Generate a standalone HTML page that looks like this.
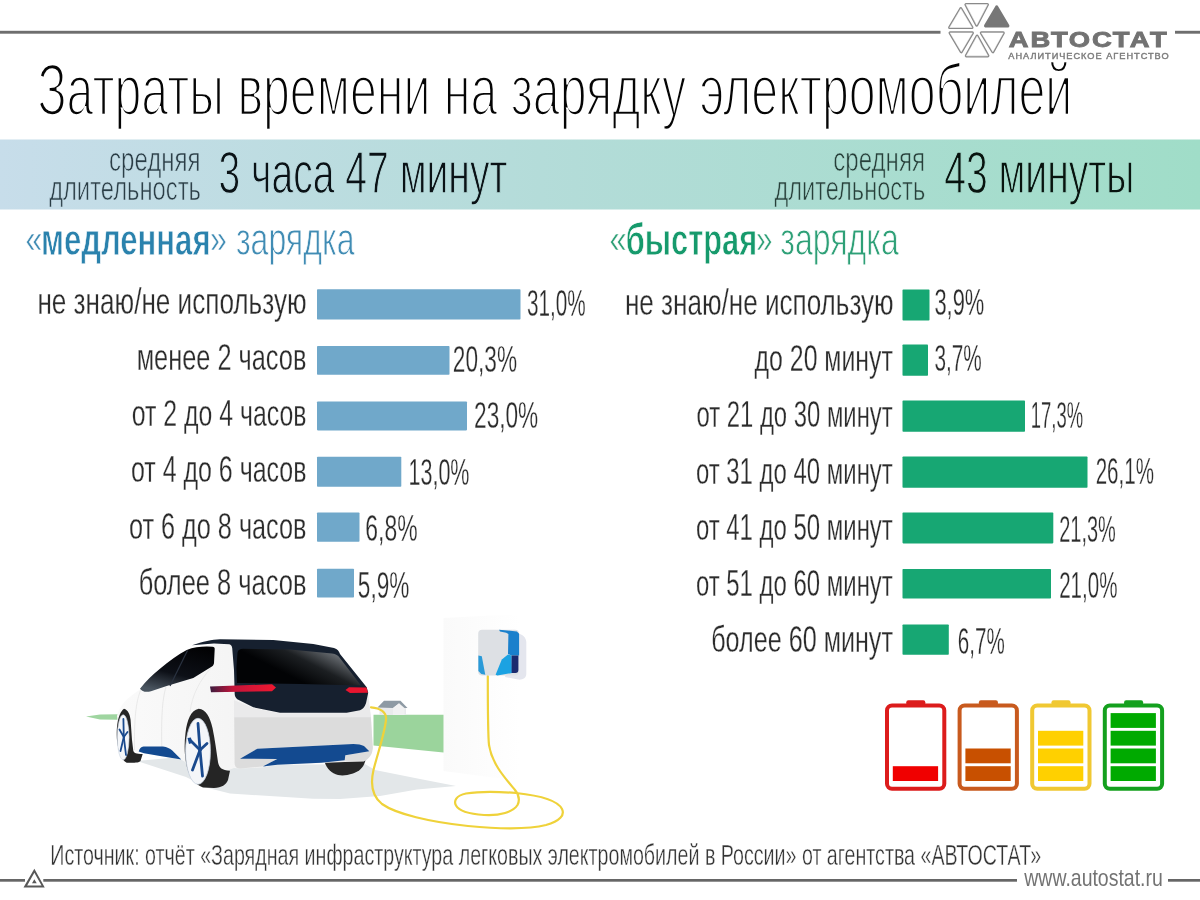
<!DOCTYPE html>
<html lang="ru"><head><meta charset="utf-8"><title>Затраты времени на зарядку электромобилей</title>
<style>
html,body{margin:0;padding:0;background:#fff}
body{width:1200px;height:900px;overflow:hidden}
svg{display:block}
text{font-family:"Liberation Sans",sans-serif}
</style></head><body>
<svg width="1200" height="900" viewBox="0 0 1200 900">
<defs>
<linearGradient id="bn" x1="0" x2="1" y1="0" y2="0"><stop offset="0" stop-color="#c7ddea"/><stop offset="0.45" stop-color="#b4dcd9"/><stop offset="1" stop-color="#a0ddc8"/></linearGradient>
<linearGradient id="bg0" gradientUnits="userSpaceOnUse" x1="-147.7" y1="0" x2="1478.1" y2="0"><stop offset="0" stop-color="#c7ddea"/><stop offset="0.45" stop-color="#b4dcd9"/><stop offset="1" stop-color="#a0ddc8"/></linearGradient>
<linearGradient id="bg1" gradientUnits="userSpaceOnUse" x1="-67.4" y1="0" x2="1578.4" y2="0"><stop offset="0" stop-color="#c7ddea"/><stop offset="0.45" stop-color="#b4dcd9"/><stop offset="1" stop-color="#a0ddc8"/></linearGradient>
<linearGradient id="bg2" gradientUnits="userSpaceOnUse" x1="-327.6" y1="0" x2="1471.6" y2="0"><stop offset="0" stop-color="#c7ddea"/><stop offset="0.45" stop-color="#b4dcd9"/><stop offset="1" stop-color="#a0ddc8"/></linearGradient>
<linearGradient id="bg3" gradientUnits="userSpaceOnUse" x1="-1129.0" y1="0" x2="496.8" y2="0"><stop offset="0" stop-color="#c7ddea"/><stop offset="0.45" stop-color="#b4dcd9"/><stop offset="1" stop-color="#a0ddc8"/></linearGradient>
<linearGradient id="bg4" gradientUnits="userSpaceOnUse" x1="-1069.3" y1="0" x2="587.6" y2="0"><stop offset="0" stop-color="#c7ddea"/><stop offset="0.45" stop-color="#b4dcd9"/><stop offset="1" stop-color="#a0ddc8"/></linearGradient>
<linearGradient id="bg5" gradientUnits="userSpaceOnUse" x1="-1415.2" y1="0" x2="383.5" y2="0"><stop offset="0" stop-color="#c7ddea"/><stop offset="0.45" stop-color="#b4dcd9"/><stop offset="1" stop-color="#a0ddc8"/></linearGradient>
</defs>
<rect width="1200" height="900" fill="#fff"/>
<!-- top line -->
<rect x="0" y="30.8" width="940.5" height="2.9" fill="#6e6e6e"/>
<rect x="1175" y="30.8" width="25" height="2.9" fill="#6e6e6e"/>
<!-- banner -->
<rect x="0" y="139.5" width="1200" height="70" fill="url(#bn)"/>
<g id="logo" stroke-linejoin="round">
<polygon points="960.80,8.70 949.69,27.51 971.91,27.51" fill="#8a8a8a" stroke="#8a8a8a" stroke-width="3.2"/>
<polygon points="960.80,8.70 949.69,27.51 971.91,27.51" fill="#fff" stroke="#fff" stroke-width="0.5"/>
<polygon points="965.95,4.61 987.40,4.61 976.70,25.10" fill="#8a8a8a" stroke="#8a8a8a" stroke-width="3.2"/>
<polygon points="965.95,4.61 987.40,4.61 976.70,25.10" fill="#fff" stroke="#fff" stroke-width="0.5"/>
<polygon points="996.70,7.00 985.59,25.91 1007.81,25.91" fill="#777" stroke="#777" stroke-width="3.2"/>
<polygon points="950.14,32.89 972.36,32.89 961.25,51.70" fill="#8a8a8a" stroke="#8a8a8a" stroke-width="3.2"/>
<polygon points="950.14,32.89 972.36,32.89 961.25,51.70" fill="#fff" stroke="#fff" stroke-width="0.5"/>
<polygon points="977.10,36.20 966.37,55.87 987.83,55.87" fill="#8a8a8a" stroke="#8a8a8a" stroke-width="3.2"/>
<polygon points="977.10,36.20 966.37,55.87 987.83,55.87" fill="#fff" stroke="#fff" stroke-width="0.5"/>
<polygon points="981.39,32.89 1003.22,32.91 992.85,51.70" fill="#8a8a8a" stroke="#8a8a8a" stroke-width="3.2"/>
<polygon points="981.39,32.89 1003.22,32.91 992.85,51.70" fill="#fff" stroke="#fff" stroke-width="0.5"/>
</g>
<g id="scene">
<defs>
<linearGradient id="wl" x1="0" x2="1" y1="0" y2="0"><stop offset="0" stop-color="#fafafa"/><stop offset="1" stop-color="#ffffff"/></linearGradient>
<linearGradient id="tl" x1="0" x2="1" y1="0" y2="0"><stop offset="0" stop-color="#3b1d3f"/><stop offset="0.35" stop-color="#c4143a"/><stop offset="1" stop-color="#f01830"/></linearGradient>
<linearGradient id="rw" x1="0.35" y1="0.6" x2="0.95" y2="0.25"><stop offset="0" stop-color="#020305"/><stop offset="0.45" stop-color="#1c1f22"/><stop offset="1" stop-color="#7d8288"/></linearGradient>
<linearGradient id="sw" x1="0.7" y1="0" x2="0.3" y2="1"><stop offset="0" stop-color="#020204"/><stop offset="0.6" stop-color="#0d1017"/><stop offset="1" stop-color="#4a5560"/></linearGradient>
<linearGradient id="bd" x1="0" x2="1" y1="0" y2="0"><stop offset="0" stop-color="#fafafa"/><stop offset="0.6" stop-color="#f3f3f3"/><stop offset="1" stop-color="#ececec"/></linearGradient>
</defs>
<polygon points="443.5,618 520,614 520,781 443.5,771" fill="url(#wl)"/>
<polygon points="137,761 186,777 208,788 230,793.5 313,798.7 340,799 380,796 417,789.5 456,786 420,779 375,770 365,764 240,765 180,757" fill="#e3e7e9"/>
<polygon points="86,716.5 100,714.5 118,714.2 118,719.8 100,719.4" fill="#9fd5a0"/>
<polygon points="373.5,714.8 443.5,714.8 443.5,752.6 373.5,745.5" fill="#9bd49c"/>
<polygon points="379.5,707 406,707 406,715 379.5,715" fill="#e9eaec"/>
<polygon points="377.5,707.6 384,700.8 400.5,700.8 407.5,708 403,708 399,703.5 393,708" fill="#8e9aa4"/>
<polygon points="393,708 399,703.2 404.5,708 404.5,715 393,715" fill="#f1f1f2"/>
<path d="M324,760 L365.5,760 C364,767 360,771 353,773.5 C347,775.5 342,775.8 338,775 C331,773 326,768 324,760Z" fill="#272727"/>
<path d="M117,716 C119,706 128,697 140,689.5 L160,668 L187,650 L207,645.5 L232,641 L336,649 L368,692 L371,717 L372.8,748 L369.5,755 L364,761.5 L344.7,762 L321,763 L277,765 L262,767.5 L240,768.5 L234,768 L226,771 L200,771 L181,759.5 L160,756 L139,752 L120,745 Z" fill="url(#bd)"/>
<path d="M140.5,690.5 C137,700 134,712 134.5,750" fill="none" stroke="#e4e4e4" stroke-width="0.8"/>
<path d="M166,687 C162,700 161,720 162,755" fill="none" stroke="#e2e2e2" stroke-width="0.8"/>
<path d="M211,668 C200,680 192,695 190,712" fill="none" stroke="#e6e6e6" stroke-width="0.8"/>
<path d="M234,700 L253,708 L280,713.5 L347,713.5 L362,710 L368.5,703 L371,717.5 L234,717.5Z" fill="#eaeaeb"/>
<path d="M234.2,717.3 L370.8,717.3 L372.8,748 C372.5,753 371,757 365.5,760.7 L344.7,760.7 L345.3,755.3 L369.3,751.3 L364,746 L353.3,744 L257.3,748.7 L240,758.7 L277.3,759 L262.7,766.4 L241,768.6 C236.5,768.6 234.8,767 234.6,763 Z" fill="#dcdcdc"/>
<path d="M240,758.7 L257.3,748.7 L353.3,744 C358,744 361.5,744.8 364,746 L369.3,751.3 L345.3,755.3 L344.7,760.3 L321.3,762.7 L277.3,764.7 L262.7,766.4 L277.3,759 Z" fill="#134a90"/>
<path d="M138.7,751.6 C139.5,748.5 141,747 143.5,746.5 L163,746.5 C167,747 170,748.5 172,750.3 L181.3,759.6 L160,756 L144,753.3 Z" fill="#134a90"/>
<path d="M192,645.3 C203,641.5 212,639.8 220,639.3 L273.3,640 L313.3,644 L334,648 C337.5,649 339,651 340,654 L366.7,687.3 L368.2,692.7 L366,703.3 C364.5,707.5 362.5,709.5 360,710.2 L346.7,712.8 L280,712.8 L253.3,707.3 L237.3,699.3 C235.5,697.5 234.8,696 234.7,694 L234,670 L232.2,648 C231.8,645.8 231,644.6 229.3,644.2 L214,643.6 Z" fill="#16202f"/>
<path d="M237.5,652.5 C238,650 240,648.8 243,648.8 L290,649.5 L332,653.6 C336,654.3 338,655.5 339.5,657.5 L361,685.5 L300,684 L237,683 L236.4,668 Z" fill="url(#rw)"/>
<path d="M140,688.7 C146,681 152,675 160,668.7 C169,661 178,654.5 186.7,650 C193,647.5 200,646.8 206.7,646.6 L212.5,646.8 C214.2,647 214.8,647.6 214.7,649 L214,663.3 C213.6,665.3 212.6,666.3 210.7,667.3 L193.3,678 L166.7,686 L151,691.2 C146,692.6 142,691.6 140,688.7Z" fill="url(#sw)"/>
<path d="M187.5,650.5 L170,686" stroke="#2a3240" stroke-width="1.2" fill="none"/>
<path d="M210,686.6 L272,684.2 L276,687.5 L272,691.2 L211,692.3 Z" fill="url(#tl)"/>
<path d="M345.5,690 L349,687.2 L366.5,687.6 L368,692.8 L350,693 Z" fill="#e8152f"/>
<path d="M124,708.7 C128,710 130,714 130.6,720 L132,740 L133.3,750.7 C134,753 136,753.8 142.7,754 L140.5,761 C139,762.5 136,763 126.7,762.8 C121.5,760 118.5,752 117.3,742 C116,730 117,714 124,708.7Z" fill="#252525"/>
<ellipse cx="123.2" cy="737.3" rx="5.9" ry="22.5" fill="#f4f6f9" stroke="#c9d3e0" stroke-width="0.6"/>
<g stroke="#1a4a8e" stroke-width="1.8" stroke-linecap="round" fill="none"><path d="M123.8,737 L123.4,719"/><path d="M123.8,737 L119.5,729.5"/><path d="M123.8,737 L127.5,732"/><path d="M123.8,737 L120.5,751"/><path d="M123.8,737 L126,755"/></g>
<path d="M198.7,708.7 C206,709.5 210,717 212.5,728 C215,740 216.5,752 218,762 C219,768 222,770.3 230,770.7 L228,780 C226,785 222,787.5 214,788 L203,787.5 C196,785 189,777 186.7,766 C184.5,756 184,745 185.5,733 C187,720 191,710 198.7,708.7Z" fill="#252525"/>
<ellipse cx="198" cy="751.3" rx="12.4" ry="33" fill="#f4f6f9" stroke="#c9d3e0" stroke-width="0.8"/>
<g stroke="#1a4a8e" stroke-width="2.8" stroke-linecap="round" fill="none"><path d="M200,750 L198,723.5"/><path d="M200,750 L189.5,739.5"/><path d="M200,750 L207,743.5"/><path d="M200,750 L192.5,770"/><path d="M200,750 L202.5,776"/></g>
<path d="M187.5,738 L191,737.5 L192,743 L189,744Z" fill="#1a4a8e"/>
<path d="M371,707.3 C380,708 387,712 386,720 C384.5,734 378,752 373.5,770 C370,785 372,796 382,804 C396,814 430,822 468,826 C500,829 530,829 546,825 C560,821 565,815 562,809 C558,801 540,795.5 516,793 C498,791.5 478,791.5 466,793.5 C456,795.5 453.5,801 456,805.5 C459,811 470,814 484,815 C500,816 513,812 517.5,805 C520,800 519,795 515,790 C505,778 492,764 489,745 C488,736 487.8,720 487.8,676" fill="none" stroke="#efd23a" stroke-width="2.2" stroke-linecap="round"/>
<path d="M517,633 C522,634 526,637 526.3,642 L526.3,674 C526,678 523,680 518,679.6 L505,677 Z" fill="#e4e6ee"/>
<rect x="478.2" y="629.7" width="40.8" height="45.8" rx="4" fill="#dde0e4"/>
<polygon points="499.1,629.7 516.9,631.4 519.1,633.7 519.1,655.6 511.6,655.4 508,654.1 508.4,634.1 506.2,632.8 500,631.4" fill="#1a80cc"/>
<polygon points="495.6,674.8 501.8,659.4 508,654.4 511.6,655.4 512,673 497.3,675.5" fill="#1ba2e2"/>
<path d="M511.6,655.4 L518.4,655.4 L518.4,670 C518.4,672 517.4,673 515.5,673 L511.6,673Z" fill="#1b2a6e"/>
<polygon points="478.4,655.4 481.8,656.3 485.3,674.8 481.3,674 478.4,671" fill="#2a9ad8"/>
</g>
<g id="bars">
<rect x="317" y="289.2" width="203.5" height="30.3" rx="0.8" fill="#70a8ca"/>
<rect x="317" y="346.1" width="132.5" height="28.7" rx="0.8" fill="#70a8ca"/>
<rect x="317" y="401.5" width="150.0" height="28.9" rx="0.8" fill="#70a8ca"/>
<rect x="317" y="456.8" width="84.3" height="30" rx="0.8" fill="#70a8ca"/>
<rect x="317" y="512.5" width="42.5" height="29.3" rx="0.8" fill="#70a8ca"/>
<rect x="317" y="568.8" width="37.0" height="28.8" rx="0.8" fill="#70a8ca"/>
<rect x="902.5" y="289.6" width="27.0" height="31" rx="0.8" fill="#17a773"/>
<rect x="902.5" y="344.4" width="25.5" height="31.4" rx="0.8" fill="#17a773"/>
<rect x="902.5" y="400.6" width="122.5" height="31.2" rx="0.8" fill="#17a773"/>
<rect x="902.5" y="456.5" width="185.0" height="31.2" rx="0.8" fill="#17a773"/>
<rect x="902.5" y="512.6" width="150.8" height="30.8" rx="0.8" fill="#17a773"/>
<rect x="902.5" y="568.9" width="148.5" height="29.6" rx="0.8" fill="#17a773"/>
<rect x="902.5" y="624.4" width="46.3" height="30.3" rx="0.8" fill="#17a773"/>
</g>
<g id="batteries">
<rect x="906.3" y="700.3" width="19" height="6" rx="2" fill="#dc1c1c"/>
<rect x="887.0" y="705.4" width="57.3" height="83.3" rx="5" fill="#fff" stroke="#dc1c1c" stroke-width="4"/>
<rect x="892.8" y="766.2" width="45.3" height="14.8" fill="#f00000"/>
<rect x="978.9" y="700.3" width="19" height="6" rx="2" fill="#c85a1e"/>
<rect x="959.6" y="705.4" width="57.3" height="83.3" rx="5" fill="#fff" stroke="#c85a1e" stroke-width="4"/>
<rect x="965.4" y="766.2" width="45.3" height="14.8" fill="#c85000"/>
<rect x="965.4" y="748.5" width="45.3" height="14.8" fill="#c85000"/>
<rect x="1051.5" y="700.3" width="19" height="6" rx="2" fill="#f0c832"/>
<rect x="1032.2" y="705.4" width="57.3" height="83.3" rx="5" fill="#fff" stroke="#f0c832" stroke-width="4"/>
<rect x="1038.0" y="766.2" width="45.3" height="14.8" fill="#ffd000"/>
<rect x="1038.0" y="748.5" width="45.3" height="14.8" fill="#ffd000"/>
<rect x="1038.0" y="730.8" width="45.3" height="14.8" fill="#ffd000"/>
<rect x="1124.1" y="700.3" width="19" height="6" rx="2" fill="#14a01e"/>
<rect x="1104.8" y="705.4" width="57.3" height="83.3" rx="5" fill="#fff" stroke="#14a01e" stroke-width="4"/>
<rect x="1110.6" y="766.2" width="45.3" height="14.8" fill="#00aa00"/>
<rect x="1110.6" y="748.5" width="45.3" height="14.8" fill="#00aa00"/>
<rect x="1110.6" y="730.8" width="45.3" height="14.8" fill="#00aa00"/>
<rect x="1110.6" y="713.1" width="45.3" height="14.8" fill="#00aa00"/>
</g>
<!-- footer line -->
<rect x="0" y="879" width="25" height="2.7" fill="#666"/>
<rect x="43.3" y="879" width="973.7" height="2.7" fill="#666"/>
<rect x="1168" y="879" width="32" height="2.7" fill="#666"/>
<path fill-rule="evenodd" d="M34.35 868.75 L44.75 887.5 L23.5 887.5 Z M34.35 872.8 L27.17 885.5 L41.53 885.5 Z" fill="#585858"/>
<path d="M34.35 879.25 L36.75 883.25 L32 883.25 Z" fill="#585858"/>
<g id="texts">
<text transform="translate(37.46 115.0) scale(0.6745 1)" font-size="71.6" fill="#050505" stroke="#fff" stroke-width="2.6">Затраты времени на зарядку электромобилей</text>
<text transform="translate(109.02 171.2) scale(0.7381 1)" font-size="32.6" fill="#2a3d46" stroke="url(#bg0)" stroke-width="0.7">средняя</text>
<text transform="translate(49.14 199.8) scale(0.7291 1)" font-size="32.6" fill="#2a3d46" stroke="url(#bg1)" stroke-width="0.7">длительность</text>
<text transform="translate(218.50 192.6) scale(0.6670 1)" font-size="58.6" fill="#0a1216" stroke="url(#bg2)" stroke-width="1.3">3 часа 47 минут</text>
<text transform="translate(833.32 171.2) scale(0.7381 1)" font-size="32.6" fill="#27403a" stroke="url(#bg3)" stroke-width="0.7">средняя</text>
<text transform="translate(774.44 199.8) scale(0.7243 1)" font-size="32.6" fill="#27403a" stroke="url(#bg4)" stroke-width="0.7">длительность</text>
<text transform="translate(944.17 192.6) scale(0.6671 1)" font-size="58.6" fill="#08140f" stroke="url(#bg5)" stroke-width="1.3">43 минуты</text>
<text transform="translate(25.43 253.2) scale(0.7351 1)" font-size="41" fill="#408cb4" stroke="#fff" stroke-width="0.6">«</text>
<text transform="translate(41.08 254.6) scale(0.6901 1)" font-size="45" font-weight="700" fill="#2a82ad" stroke="#fff" stroke-width="0.8">медленная</text>
<text transform="translate(210.03 253.2) scale(0.7368 1)" font-size="41" fill="#408cb4" stroke="#fff" stroke-width="0.6">»</text>
<text transform="translate(235.91 254.6) scale(0.6967 1)" font-size="46" fill="#408cb4" stroke="#fff" stroke-width="0.92">зарядка</text>
<text transform="translate(609.40 253.2) scale(0.7514 1)" font-size="41" fill="#2ea077" stroke="#fff" stroke-width="0.6">«</text>
<text transform="translate(625.79 254.6) scale(0.6844 1)" font-size="45" font-weight="700" fill="#169a6c" stroke="#fff" stroke-width="0.8">быстрая</text>
<text transform="translate(756.06 253.2) scale(0.7211 1)" font-size="41" fill="#2ea077" stroke="#fff" stroke-width="0.6">»</text>
<text transform="translate(780.31 254.6) scale(0.6961 1)" font-size="46" fill="#2ea077" stroke="#fff" stroke-width="0.92">зарядка</text>
<text transform="translate(37.41 313.7) scale(0.7179 1)" font-size="36.4" fill="#2b2b2b" stroke="#fff" stroke-width="0.3">не знаю/не использую</text>
<text transform="translate(526.95 315.9) scale(0.5690 1)" font-size="36.4" fill="#2b2b2b" stroke="#fff" stroke-width="0.3">31,0%</text>
<text transform="translate(136.66 369.9) scale(0.6965 1)" font-size="36.4" fill="#2b2b2b" stroke="#fff" stroke-width="0.3">менее 2 часов</text>
<text transform="translate(452.86 372.1) scale(0.6221 1)" font-size="36.4" fill="#2b2b2b" stroke="#fff" stroke-width="0.3">20,3%</text>
<text transform="translate(131.78 426.1) scale(0.6828 1)" font-size="36.4" fill="#2b2b2b" stroke="#fff" stroke-width="0.3">от 2 до 4 часов</text>
<text transform="translate(474.06 428.3) scale(0.6221 1)" font-size="36.4" fill="#2b2b2b" stroke="#fff" stroke-width="0.3">23,0%</text>
<text transform="translate(130.97 482.4) scale(0.6859 1)" font-size="36.4" fill="#2b2b2b" stroke="#fff" stroke-width="0.3">от 4 до 6 часов</text>
<text transform="translate(408.53 484.6) scale(0.5909 1)" font-size="36.4" fill="#2b2b2b" stroke="#fff" stroke-width="0.3">13,0%</text>
<text transform="translate(128.96 538.6) scale(0.6939 1)" font-size="36.4" fill="#2b2b2b" stroke="#fff" stroke-width="0.3">от 6 до 8 часов</text>
<text transform="translate(365.34 540.8) scale(0.6302 1)" font-size="36.4" fill="#2b2b2b" stroke="#fff" stroke-width="0.3">6,8%</text>
<text transform="translate(138.65 594.8) scale(0.6998 1)" font-size="36.4" fill="#2b2b2b" stroke="#fff" stroke-width="0.3">более 8 часов</text>
<text transform="translate(357.86 597.6) scale(0.6214 1)" font-size="36.4" fill="#2b2b2b" stroke="#fff" stroke-width="0.3">5,9%</text>
<text transform="translate(624.91 314.7) scale(0.7169 1)" font-size="36.4" fill="#2b2b2b" stroke="#fff" stroke-width="0.3">не знаю/не использую</text>
<text transform="translate(934.40 315.3) scale(0.6025 1)" font-size="36.4" fill="#2b2b2b" stroke="#fff" stroke-width="0.3">3,9%</text>
<text transform="translate(754.56 371.0) scale(0.6836 1)" font-size="36.4" fill="#2b2b2b" stroke="#fff" stroke-width="0.3">до 20 минут</text>
<text transform="translate(934.44 371.2) scale(0.5713 1)" font-size="36.4" fill="#2b2b2b" stroke="#fff" stroke-width="0.3">3,7%</text>
<text transform="translate(696.42 427.2) scale(0.6562 1)" font-size="36.4" fill="#2b2b2b" stroke="#fff" stroke-width="0.3">от 21 до 30 минут</text>
<text transform="translate(1030.78 427.8) scale(0.5066 1)" font-size="36.4" fill="#2b2b2b" stroke="#fff" stroke-width="0.3">17,3%</text>
<text transform="translate(695.91 483.5) scale(0.6579 1)" font-size="36.4" fill="#2b2b2b" stroke="#fff" stroke-width="0.3">от 31 до 40 минут</text>
<text transform="translate(1095.67 484.2) scale(0.5648 1)" font-size="36.4" fill="#2b2b2b" stroke="#fff" stroke-width="0.3">26,1%</text>
<text transform="translate(695.91 539.7) scale(0.6579 1)" font-size="36.4" fill="#2b2b2b" stroke="#fff" stroke-width="0.3">от 41 до 50 минут</text>
<text transform="translate(1059.20 542.0) scale(0.5487 1)" font-size="36.4" fill="#2b2b2b" stroke="#fff" stroke-width="0.3">21,3%</text>
<text transform="translate(695.91 596.0) scale(0.6579 1)" font-size="36.4" fill="#2b2b2b" stroke="#fff" stroke-width="0.3">от 51 до 60 минут</text>
<text transform="translate(1059.17 598.0) scale(0.5648 1)" font-size="36.4" fill="#2b2b2b" stroke="#fff" stroke-width="0.3">21,0%</text>
<text transform="translate(711.17 652.3) scale(0.6913 1)" font-size="36.4" fill="#2b2b2b" stroke="#fff" stroke-width="0.3">более 60 минут</text>
<text transform="translate(957.87 653.5) scale(0.5660 1)" font-size="36.4" fill="#2b2b2b" stroke="#fff" stroke-width="0.3">6,7%</text>
<text transform="translate(50.32 865.3) scale(0.6706 1)" font-size="29.3" fill="#333" stroke="#fff" stroke-width="0.4">Источник: отчёт «Зарядная инфраструктура легковых электромобилей в России» от агентства «АВТОСТАТ»</text>
<text transform="translate(1024.30 885.8) scale(0.8469 1)" font-size="23" fill="#737373">www.autostat.ru</text>
<text transform="translate(1008.80 47.3) scale(1.2123 1)" font-size="22.6" font-weight="700" letter-spacing="1.5" fill="#727272" stroke="#727272" stroke-width="0.9">АВТОСТАТ</text>
<text transform="translate(1008.30 58.7) scale(1.1087 1)" font-size="8.3" letter-spacing="0.9" fill="#7c7c7c" stroke="#7c7c7c" stroke-width="0.4">АНАЛИТИЧЕСКОЕ АГЕНТСТВО</text>
</g>
</svg>
</body></html>
